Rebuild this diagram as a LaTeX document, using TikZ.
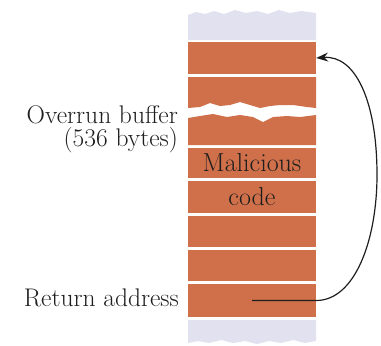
\documentclass[tikz,border=0pt]{standalone}
\usetikzlibrary{arrows.meta}
\definecolor{brick}{RGB}{207,112,74}
\definecolor{lilac}{RGB}{225,225,240}
\definecolor{ink}{RGB}{30,30,30}
\begin{document}
\begin{tikzpicture}[x=1pt,y=-1pt,
    band/.style={fill=brick,minimum width=128pt,inner sep=0pt,text=ink,
      font=\fontsize{26}{28}\selectfont},
    lbl/.style={anchor=east,align=right,text=ink,inner sep=0pt,
      font=\fontsize{25.5}{23}\selectfont},
    arr/.style={-{Stealth[length=12pt,width=9pt]},line width=1.2pt,ink}]
    \useasboundingbox (0,0) rectangle (381,346);
    \fill[lilac] (188,40) -- (188,15) -- (196,12) -- (205,14) -- (214,11) -- (224,14)
      -- (235,10) -- (246,13) -- (257,11) -- (268,14) -- (279,10) -- (290,13)
      -- (301,11) -- (316,13) -- (316,40) -- cycle;
    \fill[lilac] (188,320) -- (316,320) -- (316,341) -- (305,343) -- (293,340)
      -- (281,343) -- (269,341) -- (257,344) -- (245,341) -- (233,343)
      -- (221,340) -- (209,343) -- (198,341) -- (188,343) -- cycle;
    \node[band,minimum height=32pt] (b1) at (252,58) {};
    \fill[brick] (188,77) -- (316,77) -- (316,108) -- (307,107) -- (293,105)
      -- (280,105) -- (270,106) -- (260,108) -- (250,105) -- (240,102)
      -- (230,105) -- (220,106) -- (210,103) -- (200,107) -- (188,108) -- cycle;
    \fill[brick] (188,118) -- (200,116) -- (213,114) -- (227,117) -- (240,115)
      -- (253,117) -- (263,122) -- (273,117) -- (287,116) -- (300,117)
      -- (316,115) -- (316,145) -- (188,145) -- cycle;
    \node[band,minimum height=30pt] (b4) at (252,163) {Malicious};
    \node[band,minimum height=32pt] (b5) at (252,197) {code};
    \node[band,minimum height=31pt] (b6) at (252,231.5) {};
    \node[band,minimum height=31pt] (b7) at (252,265.5) {};
    \node[band,minimum height=33pt] (b8) at (252,300.5) {};
    \node[lbl] (buf) at (178,129) {Overrun buffer\\(536 bytes)};
    \node[lbl] (ret) at (179,298) {Return address};
    \draw[arr] (b8.center) -- (b8.east) .. controls (355,300.5) and (377,240) .. (377,175)
      .. controls (377,100) and (355,55) .. (b1.east);
\end{tikzpicture}
\end{document}
